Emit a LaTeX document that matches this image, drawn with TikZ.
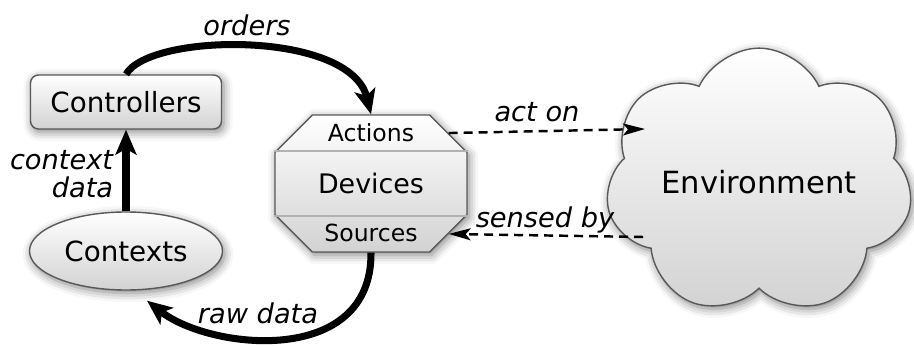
\documentclass[tikz,border=0pt]{standalone}
\usepackage{fontspec}
\setmainfont{DejaVu Sans}
\usepackage{tikz}
\usetikzlibrary{arrows.meta, positioning, shapes.misc, shapes.geometric, shapes.symbols, shadows.blur}

\begin{document}
\begin{tikzpicture}
    \tikzstyle{box}=[draw=gray!70!black, line width=0.8pt, top color=white, bottom color=gray!35,
        blur shadow={shadow xshift=0.04cm, shadow yshift=-0.06cm, shadow blur radius=0.18cm, shadow opacity=50}];
    \tikzstyle{bigarrow}=[line width=4pt, -{Stealth[length=0.5cm, width=0.42cm, inset=0.12cm]}];
    \tikzstyle{dasharrow}=[line width=1.4pt, dash pattern=on 0.18cm off 0.12cm, -{Stealth[length=0.44cm, width=0.24cm, inset=0.1cm]}];
    \tikzstyle{lbl}=[font=\fontsize{15.5}{16}\selectfont\itshape, inner sep=0pt];
    \tikzstyle{divider}=[draw=gray!60, line width=0.8pt];

    \useasboundingbox (0,0) rectangle (18.28,6.9);

    % nodes
    \node[box, rounded corners=0.16cm, minimum width=3.82cm, minimum height=1.08cm,
        font=\fontsize{15.8}{18}\selectfont] (ctrl) at (2.52,4.86) {Controllers};
    \node[box, ellipse, minimum width=3.86cm, minimum height=1.56cm,
        font=\fontsize{15.8}{18}\selectfont] (ctx) at (2.52,1.88) {Contexts};
    \node[box, chamfered rectangle, chamfered rectangle xsep=0.56cm, chamfered rectangle ysep=0.54cm,
        minimum width=3.84cm, minimum height=2.74cm, inner sep=0pt,
        font=\fontsize{15.3}{18}\selectfont] (dev) at (7.42,3.23) {Devices};
    \node[box, cloud, cloud puffs=7, cloud puff arc=130, aspect=1.3, inner sep=0pt, minimum width=6.1cm,
        minimum height=4.5cm, font=\fontsize{17.4}{20}\selectfont] (env) at (15.18,3.26) {Environment};

    % parts of the devices
    \draw[divider] ([yshift=0.65cm]dev.west) -- ([yshift=0.65cm]dev.east);
    \draw[divider] ([yshift=-0.65cm]dev.west) -- ([yshift=-0.65cm]dev.east);
    \node[font=\fontsize{13.4}{16}\selectfont] (act) at ([yshift=1.01cm]dev.center) {Actions};
    \node[font=\fontsize{13.4}{16}\selectfont] (src) at ([yshift=-0.99cm]dev.center) {Sources};

    % links
    \coordinate (acton) at (12.9,4.32);
    \coordinate (sensed) at (12.86,2.16);
    \draw[bigarrow] (ctx) -- (ctrl);
    \draw[bigarrow] (ctrl.north) .. controls (3.0,6.25) and (7.0,6.3) .. (dev.north);
    \draw[bigarrow] (dev.south) .. controls (7.44,-0.45) and (4.2,-0.1) .. ([xshift=0.42cm,yshift=-0.2cm]ctx.south);
    \draw[dasharrow] (dev.33) -- (acton);
    \draw[dasharrow] (sensed) -- (dev.-33);

    % labels
    \node[lbl] (orders) at (4.94,6.4) {orders};
    \node[lbl] (raw) at (5.16,0.64) {raw data};
    \node[lbl] (acttxt) at (10.74,4.66) {act on};
    \node[lbl] (senstxt) at (10.9,2.5) {sensed by};
    \node[lbl, align=right, anchor=east] (ctxdata) at (2.27,3.42) {context\\data};
\end{tikzpicture}
\end{document}
